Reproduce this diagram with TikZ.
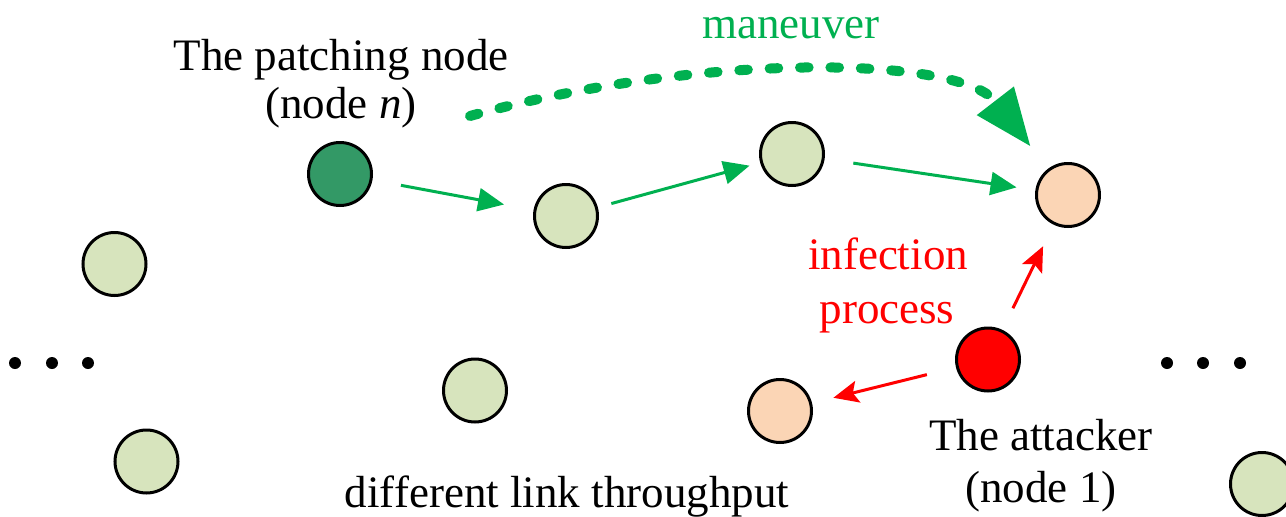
\documentclass[tikz,border=0pt]{standalone}
\usepackage{fontspec}
\setmainfont{Liberation Serif}
\usetikzlibrary{arrows.meta}

\definecolor{patchgreen}{RGB}{51,153,102}
\definecolor{nodegreen}{RGB}{215,228,189}
\definecolor{nodepeach}{RGB}{251,213,181}
\definecolor{linkgreen}{RGB}{0,176,80}
\definecolor{attackred}{RGB}{255,0,0}

\tikzset{
  host/.style={circle, draw=black, line width=3pt, minimum size=63pt, inner sep=0pt, fill=nodegreen},
  patcher/.style={host, fill=patchgreen},
  infected/.style={host, fill=nodepeach},
  attacker/.style={host, fill=attackred},
  lbl/.style={anchor=base, inner sep=0pt, font=\fontsize{45}{54}\selectfont},
  hop/.style={draw=linkgreen, line width=3pt, -{Triangle[length=26pt,width=23pt]}},
  spread/.style={draw=attackred, line width=3pt, -{Stealth[length=25pt,width=22pt,inset=5pt]}},
  moveto/.style={draw=linkgreen, line width=10pt, line cap=round,
    dash pattern=on 8.6pt off 21.8pt, -{Triangle[length=58pt,width=44pt]}},
  ellipsisdot/.style={circle, fill=black, minimum size=12pt, inner sep=0pt},
}

\begin{document}
\begin{tikzpicture}[x=1pt,y=-1pt]
  \useasboundingbox (0,0) rectangle (1286,517);

  % hosts of the network
  \node[patcher]  (pn)  at (340,174)   {};
  \node[host]     (h1)  at (566,216)   {};
  \node[host]     (h2)  at (792,154)   {};
  \node[infected] (tgt) at (1068,195)  {};
  \node[host]     (h3)  at (114.5,264) {};
  \node[host]     (h4)  at (475,390.5) {};
  \node[host]     (h5)  at (146.5,461.5) {};
  \node[infected] (vic) at (780,411)   {};
  \node[attacker] (atk) at (988,359.5) {};
  \node[host]     (h6)  at (1262,484)  {};

  % ellipsis on both sides
  \foreach \i/\x in {1/15,2/52,3/88} \node[ellipsisdot] (dl\i) at (\x,363) {};
  \foreach \i/\x in {1/1167,2/1203,3/1240} \node[ellipsisdot] (dr\i) at (\x,363) {};

  % labels
  \node[lbl] (pnA) at (341,70)  {The patching node};
  \node[lbl] (pnB) at (341,118) {(node \textit{n})};
  \node[lbl, text=linkgreen] (man) at (791,38) {maneuver};
  \node[lbl, text=attackred] (infA) at (888,269) {infection};
  \node[lbl, text=attackred] (infB) at (887,323) {process};
  \node[lbl] (atkA) at (1041,450) {The attacker};
  \node[lbl] (atkB) at (1041,502) {(node 1)};
  \node[lbl] (thr)  at (567,507)  {different link throughput};

  % patch propagation path
  \draw[hop, shorten <=29pt, shorten >=30pt] (pn) -- (h1);
  \draw[hop, shorten <=14pt, shorten >=11pt] (h1) -- (h2);
  \draw[hop, shorten <=29pt, shorten >=19pt] (h2) -- (tgt);

  % infection spreading from the attacker
  \draw[spread, shorten <=24pt, shorten >=24pt] (atk) -- (tgt);
  \draw[spread, shorten <=30pt, shorten >=22pt] (atk) -- (vic);

  % maneuver of the patching node
  \coordinate (mstart) at (470,116);
  \draw[moveto, shorten >=28pt] (mstart) .. controls (700,52) and (960,55) .. (tgt);
\end{tikzpicture}
\end{document}
